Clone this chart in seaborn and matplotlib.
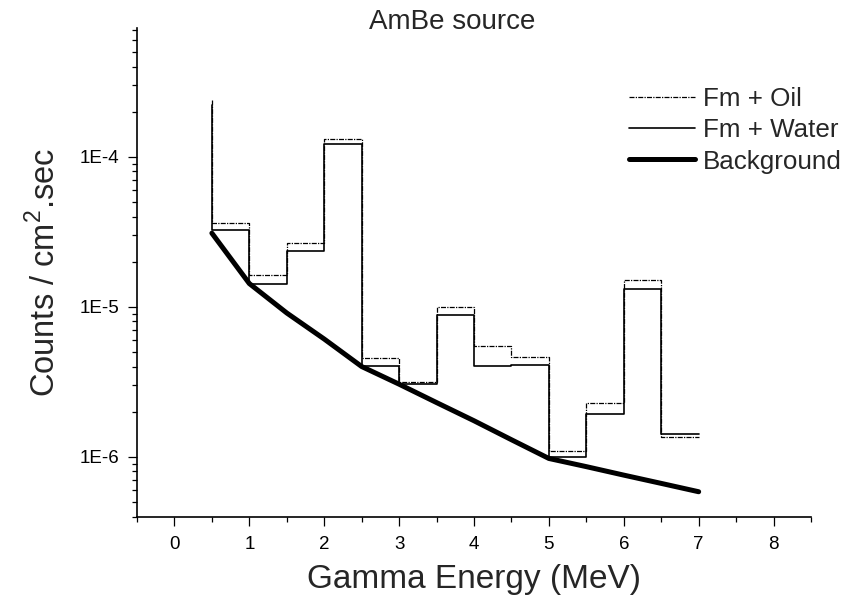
import numpy as np
import pandas as pd
import matplotlib
matplotlib.use("Agg")
import matplotlib.pyplot as plt
import matplotlib.ticker as mticker
import seaborn as sns

# ---- data ----
step_x = [0.5, 0.5, 1.0, 1.5, 2.0, 2.5, 3.0, 3.5, 4.0, 4.5, 5.0, 5.5, 6.0, 6.5, 7.0]
oil = [2.39e-4, 3.6e-5, 1.63e-5, 2.67e-5, 1.32e-4, 4.55e-6, 3.15e-6, 1.0e-5,
       5.5e-6, 4.6e-6, 1.1e-6, 2.29e-6, 1.51e-5, 1.36e-6, 1.36e-6]
water = [2.21e-4, 3.25e-5, 1.43e-5, 2.36e-5, 1.22e-4, 4.04e-6, 3.05e-6, 8.8e-6,
         4.02e-6, 4.08e-6, 9.9e-7, 1.93e-6, 1.31e-5, 1.43e-6, 1.43e-6]
bg_x = [0.5, 1.0, 1.5, 2.0, 2.5, 3.0, 3.5, 4.0, 4.5, 5.0, 5.5, 6.0, 6.5, 7.0]
background = [3.1e-5, 1.43e-5, 9.1e-6, 6.1e-6, 4.0e-6, 3.05e-6, 2.3e-6, 1.74e-6,
              1.3e-6, 9.75e-7, 8.6e-7, 7.55e-7, 6.65e-7, 5.85e-7]
x_ticks = [0, 1, 2, 3, 4, 5, 6, 7, 8]
y_ticks = [1e-6, 1e-5, 1e-4]
y_tick_labels = ["1E-6", "1E-5", "1E-4"]

sns.set_style("ticks")
plt.rcParams["font.family"] = ["Liberation Sans", "DejaVu Sans"]
plt.rcParams["mathtext.fontset"] = "custom"
plt.rcParams["mathtext.rm"] = "Liberation Sans"

W, H = 845, 603
fig = plt.figure(figsize=(W / 100, H / 100), dpi=100)
left, right, top, bottom = 137, 811, 28.3, 516.5
ax = fig.add_axes([left / W, 1 - bottom / H, (right - left) / W, (bottom - top) / H])

df_oil = pd.DataFrame({"x": step_x, "y": oil})
df_water = pd.DataFrame({"x": step_x, "y": water})
df_bg = pd.DataFrame({"x": bg_x, "y": background})

sns.lineplot(data=df_oil, x="x", y="y", ax=ax, sort=False, estimator=None,
             drawstyle="steps-post", color="black", lw=0.9,
             linestyle=(0, (4, 1, 1, 1)), label="Fm + Oil")
sns.lineplot(data=df_water, x="x", y="y", ax=ax, sort=False, estimator=None,
             drawstyle="steps-post", color="black", lw=1.2, label="Fm + Water")
sns.lineplot(data=df_bg, x="x", y="y", ax=ax, sort=False, estimator=None,
             color="black", lw=3.6, label="Background")

ax.set_yscale("log")
ax.set_xlim(-0.5, 8.5)
ax.set_ylim(4e-7, 7.2e-4)

ax.set_xticks(x_ticks)
ax.set_xticklabels([str(t) for t in x_ticks])
ax.xaxis.set_minor_locator(mticker.MultipleLocator(0.5))
ax.yaxis.set_major_locator(mticker.FixedLocator(y_ticks))
ax.yaxis.set_major_formatter(mticker.FixedFormatter(y_tick_labels))
ax.yaxis.set_minor_locator(mticker.LogLocator(base=10, subs=np.arange(2, 10)))
ax.yaxis.set_minor_formatter(mticker.NullFormatter())

ax.tick_params(axis="both", which="major", direction="out", length=6.5, width=0.9,
               labelsize=13.5, color="black", labelcolor="black", pad=6)
ax.tick_params(axis="x", which="major", pad=7.5)
ax.tick_params(axis="both", which="minor", direction="out", length=3.4, width=0.9,
               color="black")

for s in ["top", "right"]:
    ax.spines[s].set_visible(False)
for s in ["left", "bottom"]:
    ax.spines[s].set_linewidth(1.2)
    ax.spines[s].set_color("black")

ax.set_xlabel("Gamma Energy (MeV)", fontsize=24, labelpad=8)
ax.set_ylabel("Counts / cm$^{2}$.sec", fontsize=23.5, labelpad=13)

fig.text(452 / W, 1 - 29.3 / H, "AmBe source", ha="center", va="baseline", fontsize=20)

leg = ax.legend(loc="upper right", bbox_to_anchor=(842 / W, 1 - 87 / H),
                bbox_transform=fig.transFigure, frameon=False, fontsize=18.7,
                handlelength=2.55, handletextpad=0.3, labelspacing=0.28,
                borderpad=0, borderaxespad=0)

fig.savefig("out.png", dpi=100)
